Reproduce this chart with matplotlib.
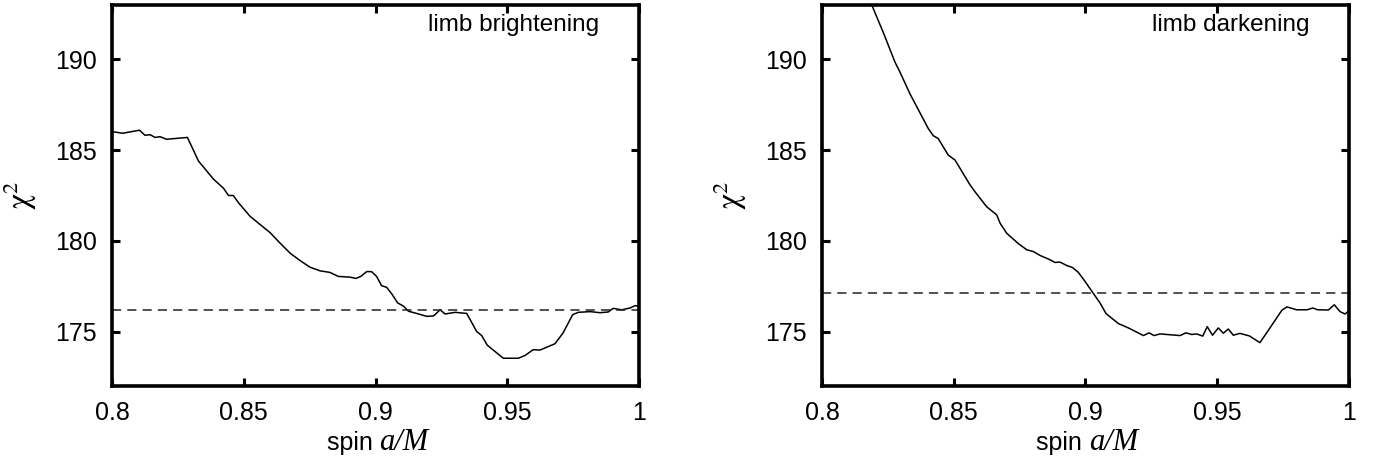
import matplotlib
matplotlib.use('Agg')
import matplotlib.pyplot as plt

plt.rcParams['font.family'] = ['Liberation Sans', 'DejaVu Sans']

# limb brightening
spin_b = [0.800, 0.801, 0.804, 0.8104, 0.8125, 0.8145, 0.8163, 0.8182, 0.8207,
          0.8286, 0.8328, 0.8385, 0.8423, 0.8442, 0.846, 0.848, 0.8524, 0.86,
          0.8638, 0.8676, 0.8713, 0.8751, 0.8789, 0.8827, 0.8859, 0.8903,
          0.8926, 0.8944, 0.8967, 0.8985, 0.9004, 0.9023, 0.9042, 0.9061,
          0.9084, 0.9106, 0.9125, 0.9156, 0.9194, 0.922, 0.9245, 0.9264,
          0.9302, 0.9346, 0.9384, 0.9403, 0.9424, 0.9485, 0.9542, 0.9567,
          0.9598, 0.9624, 0.9681, 0.9712, 0.9748, 0.9769, 0.9814, 0.9852,
          0.9883, 0.9902, 0.9934, 0.9966, 0.9985, 1.0]
chi2_b = [186.0, 186.0, 185.93, 186.1, 185.82, 185.85, 185.7, 185.74, 185.6,
          185.7, 184.4, 183.4, 182.9, 182.5, 182.5, 182.1, 181.35, 180.45,
          179.87, 179.32, 178.92, 178.55, 178.35, 178.26, 178.04, 178.0,
          177.93, 178.04, 178.31, 178.3, 178.04, 177.53, 177.44, 177.09,
          176.58, 176.4, 176.12, 176.0, 175.84, 175.86, 176.2, 175.97,
          176.06, 176.0, 175.0, 174.78, 174.25, 173.53, 173.53, 173.68,
          174.0, 173.98, 174.33, 174.93, 175.93, 176.06, 176.1, 176.04,
          176.08, 176.28, 176.2, 176.3, 176.43, 176.4]
level_b = 176.2

# limb darkening
spin_d = [0.815, 0.8189, 0.8235, 0.8277, 0.8296, 0.8334, 0.8403, 0.8422,
          0.8441, 0.8479, 0.8505, 0.8562, 0.8581, 0.8625, 0.8663, 0.8676,
          0.8701, 0.8745, 0.8777, 0.8802, 0.8827, 0.8865, 0.8884, 0.8903,
          0.8929, 0.8951, 0.8973, 0.8998, 0.903, 0.9055, 0.9078, 0.9125,
          0.9163, 0.922, 0.9241, 0.926, 0.9283, 0.9359, 0.9381, 0.9403,
          0.9422, 0.9445, 0.9462, 0.9482, 0.9504, 0.9523, 0.9542, 0.9561,
          0.9586, 0.9622, 0.9662, 0.97, 0.9745, 0.9764, 0.9802, 0.984,
          0.9863, 0.9881, 0.9922, 0.9944, 0.9966, 0.9985, 1.0]
chi2_d = [194.4, 193.0, 191.4, 189.85, 189.3, 188.1, 186.2, 185.8,
          185.64, 184.73, 184.45, 183.08, 182.7, 181.88, 181.43, 180.97,
          180.42, 179.85, 179.51, 179.41, 179.2, 178.96, 178.81, 178.83,
          178.64, 178.53, 178.26, 177.77, 177.1, 176.58, 175.99, 175.44,
          175.2, 174.78, 174.93, 174.78, 174.87, 174.78, 174.93, 174.84,
          174.87, 174.75, 175.27, 174.8, 175.2, 174.91, 175.14, 174.8,
          174.9, 174.76, 174.39, 175.2, 176.17, 176.36, 176.2, 176.2,
          176.3, 176.2, 176.19, 176.48, 176.1, 175.97, 176.15]
level_d = 177.1

xticks = [0.8, 0.85, 0.9, 0.95, 1.0]
xticklabels = ['0.8', '0.85', '0.9', '0.95', '1']
yticks = [175, 180, 185, 190]


def panel(ax, x, y, level, label):
    ax.plot(x, y, color='black', lw=1.1)
    ax.axhline(level, color='#222222', lw=1.1, dashes=(6, 4))
    ax.set_xlim(0.8, 1.0)
    ax.set_ylim(172, 193)
    ax.set_xticks(xticks)
    ax.set_xticklabels(xticklabels)
    ax.set_yticks(yticks)
    ax.tick_params(direction='in', top=True, right=True, length=6, width=2.2,
                   labelsize=18, pad=11)
    for s in ax.spines.values():
        s.set_linewidth(2.6)
    ax.set_ylabel(r'$\mathrm{\chi}^{2}$', fontsize=23, math_fontfamily='stix')
    ax.yaxis.set_label_coords(-0.138, 0.5)
    ax.text(0.925, 0.977, label, transform=ax.transAxes, ha='right', va='top',
            fontsize=17.5)


def xlabel(fig, ax):
    # "spin" in sans, "a/M" in larger italic serif, centred under the axes
    t1 = fig.text(0, 0, 'spin ', fontsize=18, va='baseline')
    t2 = fig.text(0, 0, 'a/M', fontsize=22, va='baseline',
                  family='Liberation Serif', style='italic')
    r = fig.canvas.get_renderer()
    w1 = t1.get_window_extent(r).width
    w2 = t2.get_window_extent(r).width
    W, H = fig.get_size_inches() * fig.dpi
    bb = ax.get_window_extent(r)
    cx = bb.x0 + bb.width / 2 + 2
    yb = 13 / H
    t1.set_position(((cx - (w1 + w2) / 2) / W, yb))
    t2.set_position(((cx - (w1 + w2) / 2 + w1) / W, yb))


fig = plt.figure(figsize=(13.85, 4.63), dpi=100)
ax1 = fig.add_axes([0.0809, 0.1663, 0.3805, 0.8229])
ax2 = fig.add_axes([0.5935, 0.1663, 0.3805, 0.8229])

panel(ax1, spin_b, chi2_b, level_b, 'limb brightening')
panel(ax2, spin_d, chi2_d, level_d, 'limb darkening')
xlabel(fig, ax1)
xlabel(fig, ax2)

fig.savefig('out.png', dpi=100)
